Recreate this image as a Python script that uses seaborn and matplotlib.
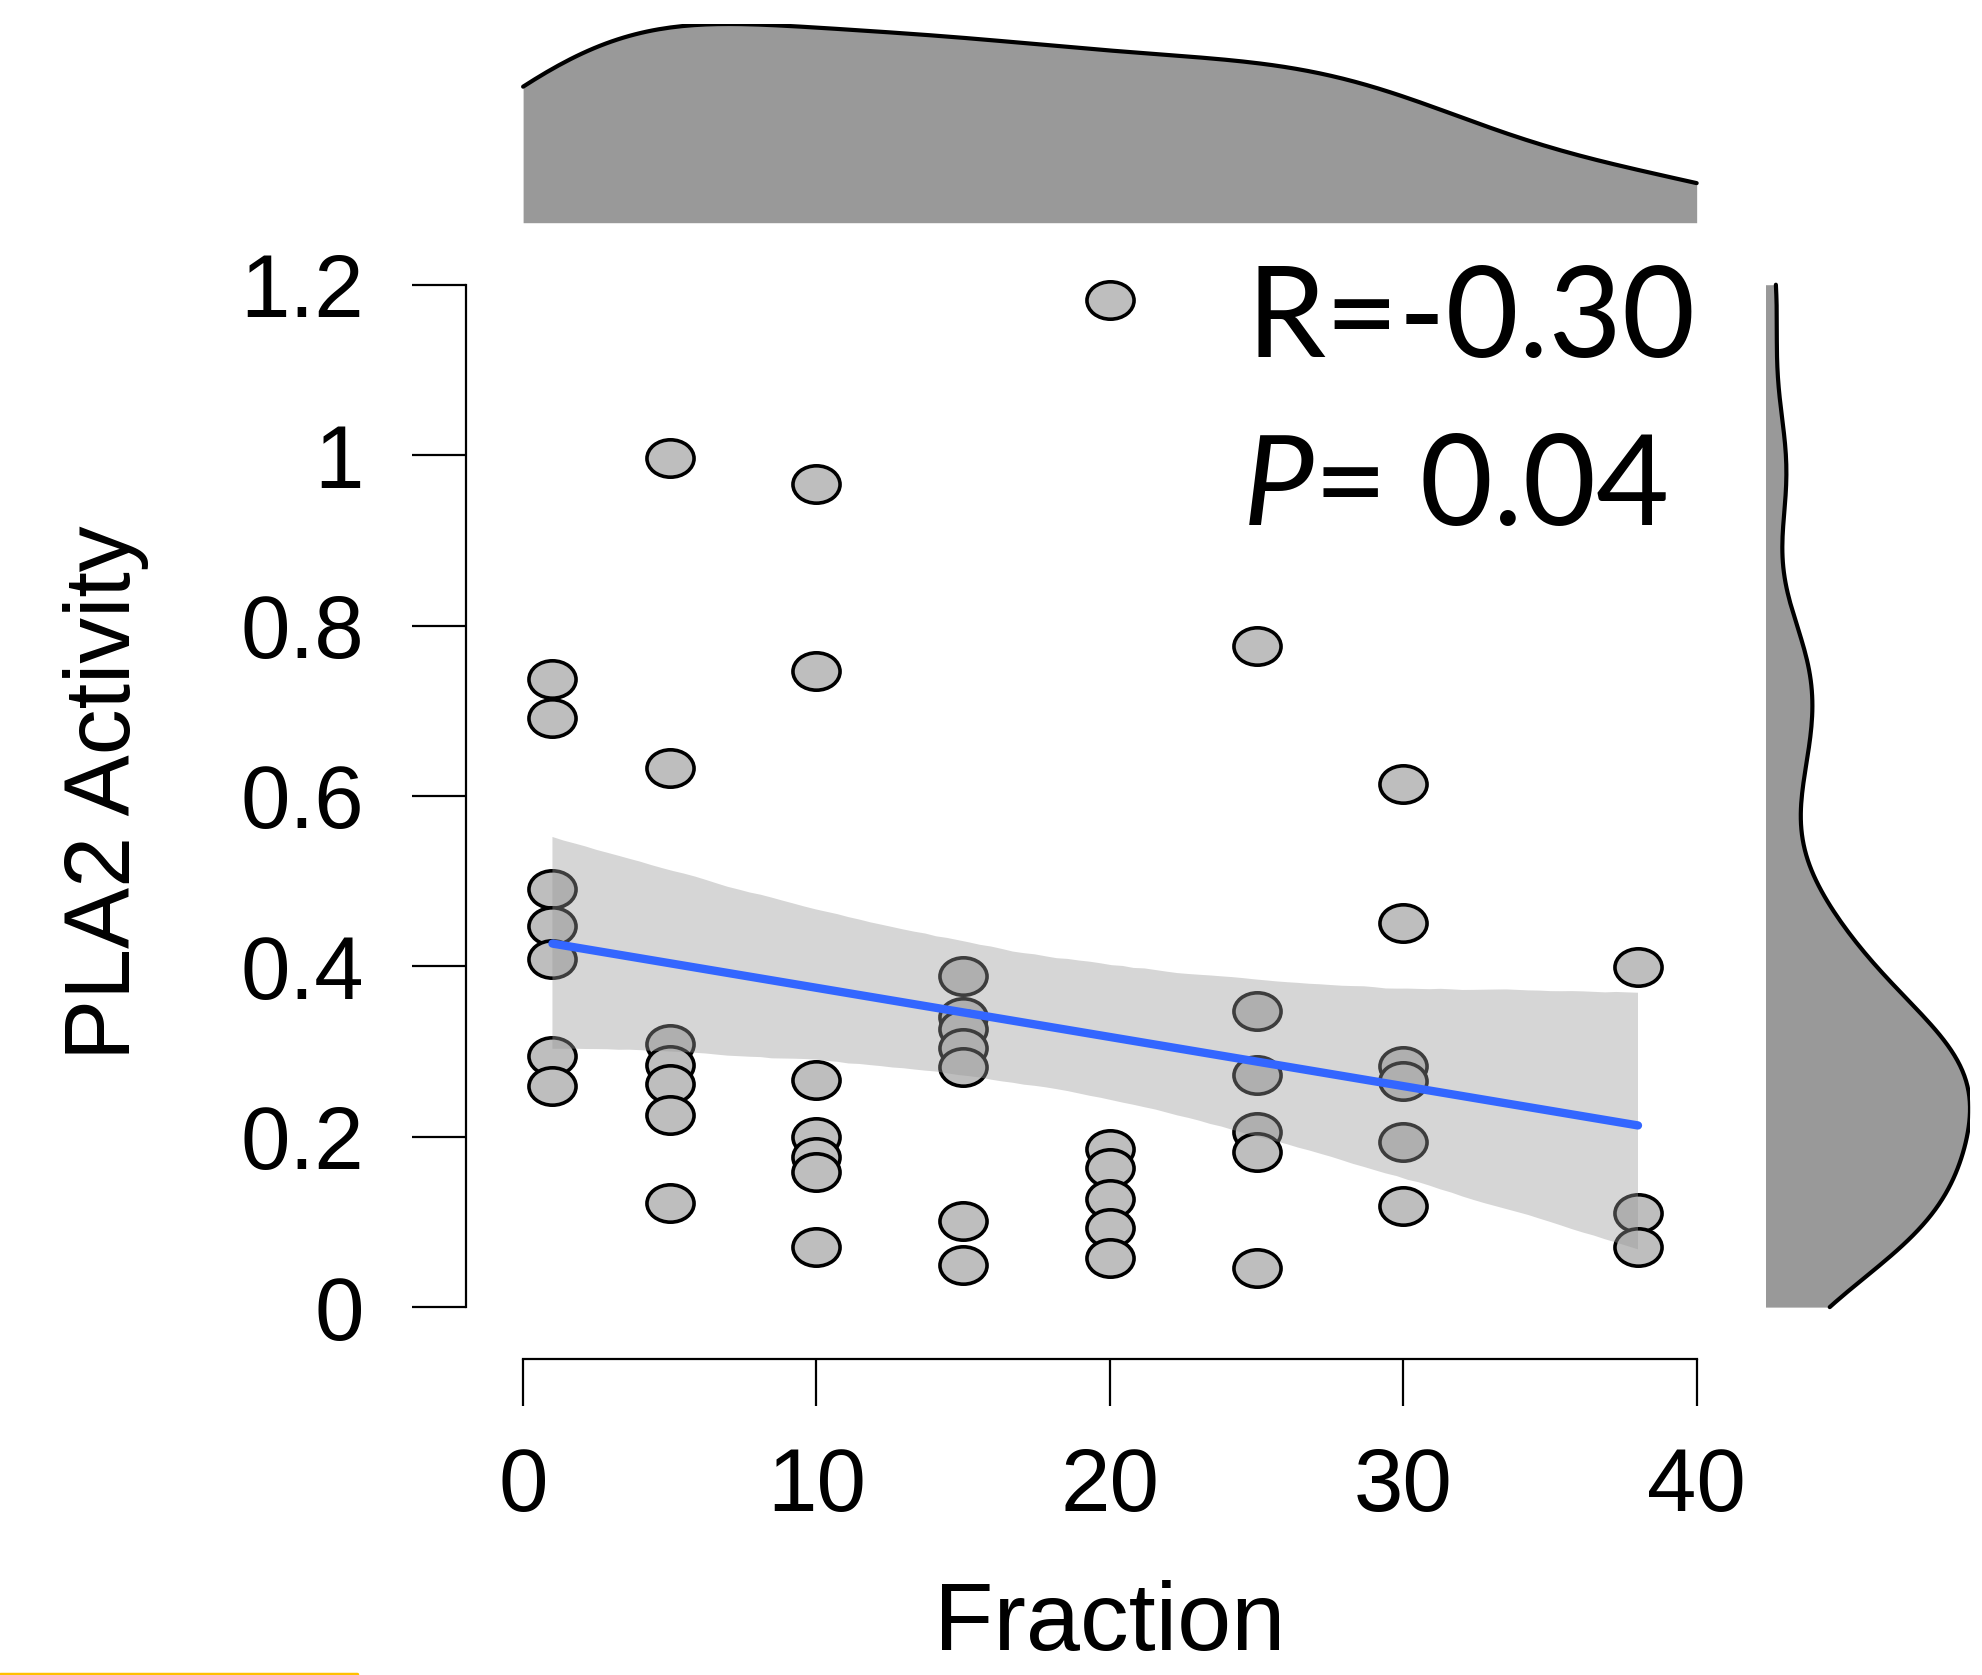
import numpy as np
import pandas as pd
import matplotlib
matplotlib.use("Agg")
import matplotlib.pyplot as plt
import seaborn as sns
from matplotlib.path import Path
from matplotlib.transforms import Affine2D
from matplotlib.lines import Line2D

# Fraction groups and the PLA2 activity
fraction = [1] * 7 + [5] * 7 + [10] * 7 + [15] * 7 + [20] * 6 + [25] * 6 + [30] * 6 + [38] * 3
activity = [
    0.737, 0.691, 0.491, 0.447, 0.409, 0.295, 0.260,
    0.997, 0.633, 0.309, 0.284, 0.262, 0.226, 0.122,
    0.966, 0.747, 0.266, 0.200, 0.176, 0.159, 0.071,
    0.389, 0.341, 0.327, 0.304, 0.282, 0.101, 0.049,
    1.182, 0.186, 0.163, 0.127, 0.093, 0.058,
    0.776, 0.348, 0.272, 0.206, 0.182, 0.046,
    0.614, 0.451, 0.283, 0.265, 0.194, 0.119,
    0.399, 0.110, 0.070,
]
x_ticks = [0, 10, 20, 30, 40]
y_ticks = [0, 0.2, 0.4, 0.6, 0.8, 1.0, 1.2]
y_ticklabels = ["0", "0.2", "0.4", "0.6", "0.8", "1", "1.2"]
r_text = "R=-0.30"
p_text = "= 0.04"

df = pd.DataFrame({"Fraction": fraction, "PLA2 Activity": activity})

sns.set_style("white")
plt.rcParams["font.family"] = ["Liberation Sans", "DejaVu Sans"]
plt.rcParams["text.color"] = "black"
plt.rcParams["axes.labelcolor"] = "black"


# R style nrd0 bandwidth, as a factor of the sd for scipy
def nrd0_factor(v):
    v = np.asarray(v, dtype=float)
    sd = v.std(ddof=1)
    iqr = np.percentile(v, 75) - np.percentile(v, 25)
    bw = 0.9 * min(sd, iqr / 1.34) * len(v) ** -0.2
    return bw / sd


W, H = 1983, 1675
fig = plt.figure(figsize=(W / 100, H / 100), dpi=100)

# main panel, placed in pixels
left, right, top, bottom = 465.6, 1726.0, 252.0, 1359.0
ax = fig.add_axes([left / W, 1 - bottom / H, (right - left) / W, (bottom - top) / H])
ax_top = fig.add_axes([left / W, 1 - 222.7 / H, (right - left) / W, (222.7 - 24) / H])
ax_right = fig.add_axes([1765.5 / W, 1 - bottom / H, (1970 - 1765.5) / W, (bottom - top) / H])

# slightly wide ellipse marker, like the stretched original
ellipse = Path.unit_circle().transformed(Affine2D().scale(1.26, 1.0))

sns.scatterplot(data=df, x="Fraction", y="PLA2 Activity", ax=ax, marker=ellipse,
                s=1150, color="#BEBEBE", edgecolor="black", linewidth=2.6, zorder=1)
sns.regplot(data=df, x="Fraction", y="PLA2 Activity", ax=ax, scatter=False,
            ci=97, seed=0, n_boot=5000, line_kws={"color": "#3366FF", "lw": 6})
band = ax.collections[-1]
band.set_facecolor("#999999")
band.set_alpha(0.4)
band.set_edgecolor("none")

ax.set_xlim(-1.96, 41.0)
ax.set_ylim(-0.0609, 1.2384)
ax.set_xticks(x_ticks)
ax.set_xticklabels([str(t) for t in x_ticks])
ax.set_yticks(y_ticks)
ax.set_yticklabels(y_ticklabels)
sns.despine(ax=ax)
ax.spines["left"].set_bounds(0, 1.2)
ax.spines["bottom"].set_bounds(0, 40)
for s in ["left", "bottom"]:
    ax.spines[s].set_linewidth(1.6)
    ax.spines[s].set_color("black")
ax.tick_params(axis="x", length=34, width=1.6, pad=29, labelsize=64, colors="black", bottom=True)
ax.tick_params(axis="y", length=39, width=1.6, pad=34, labelsize=64, colors="black", left=True)

ax.set_xlabel("Fraction", fontsize=70, color="black")
ax.xaxis.label.set_va("baseline")
ax.xaxis.set_label_coords(0.5112, (bottom - 1650) / (bottom - top))
ax.set_ylabel("PLA2 Activity", fontsize=66, color="black")
ax.yaxis.label.set_va("center")
ax.yaxis.set_label_coords((106 - left) / (right - left), (bottom - 793) / (bottom - top))

# marginal densities
fx = nrd0_factor(fraction)
fy = nrd0_factor(activity)
sns.kdeplot(x=fraction, ax=ax_top, bw_method=fx, clip=(0, 40), fill=True,
            color="#999999", alpha=1, linewidth=0)
sns.kdeplot(x=fraction, ax=ax_top, bw_method=fx, clip=(0, 40), color="black", linewidth=3)
ax_top.set_xlim(ax.get_xlim())
ax_top.set_ylim(0, ax_top.lines[-1].get_ydata().max())

sns.kdeplot(y=activity, ax=ax_right, bw_method=fy, clip=(0, 1.2), fill=True,
            color="#999999", alpha=1, linewidth=0)
sns.kdeplot(y=activity, ax=ax_right, bw_method=fy, clip=(0, 1.2), color="black", linewidth=3)
ax_right.set_ylim(ax.get_ylim())
ax_right.set_xlim(0, ax_right.lines[-1].get_xdata().max())

for a in (ax_top, ax_right):
    a.set_axis_off()

# statistics annotation
fig.text(1246 / W, 1 - 356.7 / H, r_text, fontsize=91, family=["Lato", "DejaVu Sans"],
         color="black", ha="left", va="baseline")
p = fig.text(1243 / W, 1 - 525 / H, "P", fontsize=91, family=["Lato", "DejaVu Sans"],
             color="black", style="italic", ha="left", va="baseline")
fig.canvas.draw()
ax.annotate(p_text, xy=(1, 0), xycoords=p, fontsize=91, family=["Lato", "DejaVu Sans"],
            color="black", ha="left", va="bottom", annotation_clip=False)

# slide accent line bottom left
fig.add_artist(Line2D([0, 357 / W], [1.5 / H, 1.5 / H], color="#FFC000", lw=2.5,
                      transform=fig.transFigure))

fig.savefig("out.png", dpi=100)
